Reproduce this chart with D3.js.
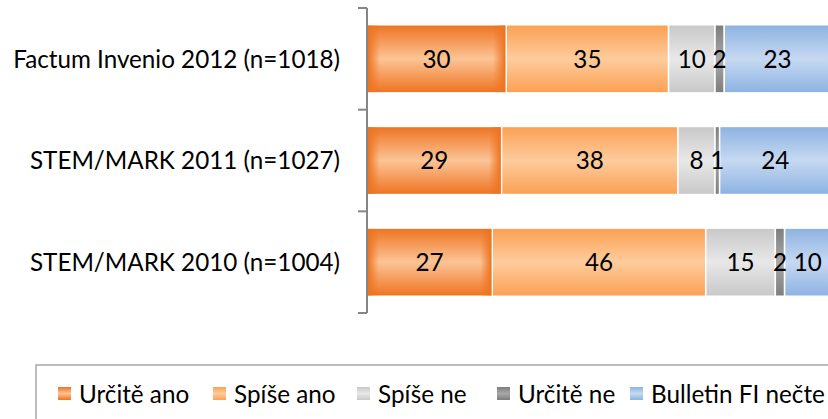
<!DOCTYPE html>
<html>
<head>
<meta charset="utf-8">
<script src="https://cdn.jsdelivr.net/npm/d3@7"></script>
<style>
  html, body { margin: 0; padding: 0; background: #fff; overflow: hidden; }
  text { font-family: Lato, "Open Sans", sans-serif; fill: #000; }
</style>
</head>
<body>
<script>
// data
var categories = ["Factum Invenio 2012 (n=1018)", "STEM/MARK 2011 (n=1027)", "STEM/MARK 2010 (n=1004)"];
var seriesNames = ["Určitě ano", "Spíše ano", "Spíše ne", "Určitě ne", "Bulletin FI nečte"];
var urciteAno = [30, 29, 27];
var spiseAno = [35, 38, 46];
var spiseNe = [10, 8, 15];
var urciteNe = [2, 1, 2];
var bulletinNecte = [23, 24, 10];

var seriesValues = [urciteAno, spiseAno, spiseNe, urciteNe, bulletinNecte];

// colours: [edge, centre]
var palette = [
  ["#ee7320", "#fcc496"],
  ["#fba052", "#fdcc9c"],
  ["#c8c8c8", "#e8e8e8"],
  ["#7d7d7d", "#a8a8a8"],
  ["#8cb2e2", "#c6d9f1"] ];

var W = 828, H = 419;
var svg = d3.select("body").append("svg")
    .attr("width", W)
    .attr("height", H);

var defs = svg.append("defs");
palette.forEach(function(c, i) {
  var g = defs.append("linearGradient")
      .attr("id", "grad" + i)
      .attr("x1", 0).attr("y1", 0).attr("x2", 0).attr("y2", 1);
  g.append("stop").attr("offset", "0%").attr("stop-color", c[0]);
  g.append("stop").attr("offset", "50%").attr("stop-color", c[1]);
  g.append("stop").attr("offset", "100%").attr("stop-color", c[0]);
});
// horizontal edge darkening for the first series
var hg = defs.append("linearGradient")
    .attr("id", "edgeH")
    .attr("x1", 0).attr("y1", 0).attr("x2", 1).attr("y2", 0);
hg.append("stop").attr("offset", "0%").attr("stop-color", palette[0][0]).attr("stop-opacity", 1);
hg.append("stop").attr("offset", "9%").attr("stop-color", palette[0][0]).attr("stop-opacity", 0);
hg.append("stop").attr("offset", "91%").attr("stop-color", palette[0][0]).attr("stop-opacity", 0);
hg.append("stop").attr("offset", "100%").attr("stop-color", palette[0][0]).attr("stop-opacity", 1);

function fitSize(str, target, base) {
  var t = svg.append("text").attr("font-size", base).text(str);
  var w = t.node().getComputedTextLength();
  t.remove();
  return base * target / w;
}
var labelSize = fitSize(categories[0], 327, 20);
var legendSize = fitSize(seriesNames[4], 174, 20);

var x = d3.scaleLinear().domain([0, 100]).range([367, 831]);
var y = d3.scaleBand().domain(categories).range([8, 313])
    .paddingInner(0.33).paddingOuter(0.165);

// stacked rows
var rows = categories.map(function(cat, ci) {
  var acc = 0;
  return seriesValues.map(function(vals, si) {
    var seg = { cat: cat, s: si, v: vals[ci], x0: acc, x1: acc + vals[ci] };
    acc += vals[ci];
    return seg;
  });
});
var segs = [].concat.apply([], rows);

var bars = svg.append("g");
bars.selectAll("rect.seg")
  .data(segs)
  .enter().append("rect")
    .attr("class", "seg")
    .attr("x", function(d) { return x(d.x0); })
    .attr("y", function(d) { return y(d.cat); })
    .attr("width", function(d) { return x(d.x1) - x(d.x0); })
    .attr("height", y.bandwidth())
    .attr("fill", function(d) { return "url(#grad" + d.s + ")"; })
    .attr("stroke", "#fff")
    .attr("stroke-width", 1.5);
bars.selectAll("rect.edge")
  .data(segs.filter(function(d) { return d.s === 0; }))
  .enter().append("rect")
    .attr("class", "edge")
    .attr("x", function(d) { return x(d.x0) + 0.75; })
    .attr("y", function(d) { return y(d.cat) + 0.75; })
    .attr("width", function(d) { return x(d.x1) - x(d.x0) - 1.5; })
    .attr("height", y.bandwidth() - 1.5)
    .attr("fill", "url(#edgeH)");

bars.selectAll("text.val")
  .data(segs)
  .enter().append("text")
    .attr("class", "val")
    .attr("x", function(d) { return (x(d.x0) + x(d.x1)) / 2; })
    .attr("y", function(d) { return y(d.cat) + y.bandwidth() / 2; })
    .attr("dy", "0.36em")
    .attr("text-anchor", "middle")
    .attr("font-size", labelSize)
    .text(function(d) { return d.v; });

// category axis
var axis = svg.append("g");
axis.append("line")
    .attr("x1", 367).attr("x2", 367)
    .attr("y1", 8).attr("y2", 313)
    .attr("stroke", "#868686").attr("stroke-width", 2);
var bounds = [8].concat(categories.map(function(c) { return y(c) + y.bandwidth() + y.step() * y.paddingInner() / 2; }));
bounds[bounds.length - 1] = 313;
axis.selectAll("line.tick")
  .data(bounds)
  .enter().append("line")
    .attr("class", "tick")
    .attr("x1", 358).attr("x2", 367)
    .attr("y1", function(d) { return d; })
    .attr("y2", function(d) { return d; })
    .attr("stroke", "#868686").attr("stroke-width", 2);
axis.selectAll("text")
  .data(categories)
  .enter().append("text")
    .attr("x", 340)
    .attr("y", function(d) { return y(d) + y.bandwidth() / 2; })
    .attr("dy", "0.36em")
    .attr("text-anchor", "end")
    .attr("font-size", labelSize)
    .text(function(d) { return d; });

// legend
var legend = svg.append("g");
legend.append("rect")
    .attr("x", 36).attr("y", 365)
    .attr("width", 820).attr("height", 80)
    .attr("fill", "none")
    .attr("stroke", "#a6a6a6").attr("stroke-width", 1.5);
var legendX = [58, 213, 357, 497, 630];
var items = legend.selectAll("g.item")
  .data(seriesNames)
  .enter().append("g")
    .attr("class", "item")
    .attr("transform", function(d, i) { return "translate(" + legendX[i] + ",387)"; });
items.append("rect")
    .attr("width", 13).attr("height", 13)
    .attr("fill", function(d, i) { return "url(#grad" + i + ")"; });
items.append("text")
    .attr("x", 21)
    .attr("y", 7)
    .attr("dy", "0.36em")
    .attr("font-size", legendSize)
    .text(function(d) { return d; });
</script>
</body>
</html>
